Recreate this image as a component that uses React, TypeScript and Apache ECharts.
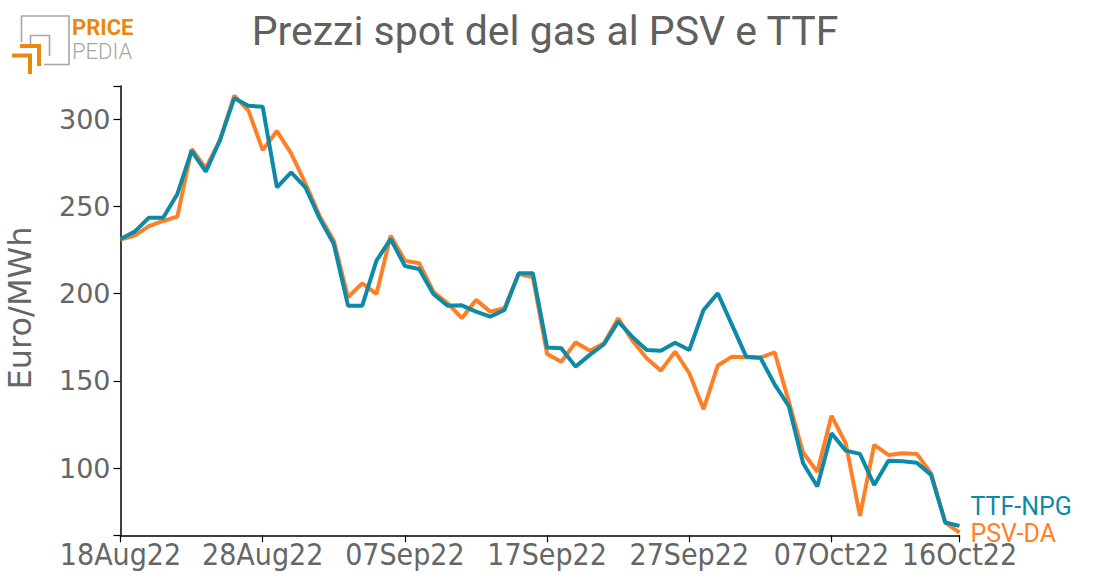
import React, { useEffect, useRef } from "react";
import * as echarts from "echarts";

const dates: string[] = [
  "18Aug22", "19Aug22", "20Aug22", "21Aug22", "22Aug22", "23Aug22", "24Aug22", "25Aug22", "26Aug22", "27Aug22",
  "28Aug22", "29Aug22", "30Aug22", "31Aug22", "01Sep22", "02Sep22", "03Sep22", "04Sep22", "05Sep22", "06Sep22",
  "07Sep22", "08Sep22", "09Sep22", "10Sep22", "11Sep22", "12Sep22", "13Sep22", "14Sep22", "15Sep22", "16Sep22",
  "17Sep22", "18Sep22", "19Sep22", "20Sep22", "21Sep22", "22Sep22", "23Sep22", "24Sep22", "25Sep22", "26Sep22",
  "27Sep22", "28Sep22", "29Sep22", "30Sep22", "01Oct22", "02Oct22", "03Oct22", "04Oct22", "05Oct22", "06Oct22",
  "07Oct22", "08Oct22", "09Oct22", "10Oct22", "11Oct22", "12Oct22", "13Oct22", "14Oct22", "15Oct22", "16Oct22",
];

const labelIndexes: number[] = [0, 10, 20, 30, 40, 50, 59];

const ttfNpg: number[] = [
  231.3, 235.5, 243.5, 243.5, 257.1, 281.7, 269.8, 288.0, 311.9, 307.6,
  307.0, 260.9, 269.5, 260.9, 243.1, 228.4, 193.1, 193.1, 218.9, 231.3,
  215.8, 214.1, 199.8, 193.1, 193.3, 189.7, 186.8, 190.6, 211.6, 211.6,
  169.1, 168.7, 158.2, 164.9, 171.0, 184.0, 175.2, 167.7, 167.3, 171.9,
  167.7, 190.6, 200.2, 182.1, 163.9, 163.3, 148.0, 135.5, 102.9, 89.5,
  120.0, 110.1, 108.2, 90.4, 104.3, 104.0, 103.2, 96.2, 68.9, 67.0,
];

const psvDa: number[] = [
  231.0, 233.2, 238.7, 241.6, 244.1, 282.8, 271.8, 288.0, 313.4, 304.8,
  282.2, 293.1, 280.3, 263.2, 244.5, 230.3, 197.9, 205.9, 199.8, 233.2,
  218.9, 217.4, 201.1, 194.5, 185.9, 196.4, 189.7, 191.6, 211.3, 209.4,
  165.4, 161.0, 172.1, 167.3, 171.6, 185.9, 173.0, 163.0, 155.9, 166.8,
  154.4, 133.8, 158.8, 163.9, 163.6, 163.3, 166.4, 138.0, 109.0, 98.0,
  130.0, 114.3, 72.7, 113.4, 107.6, 108.6, 108.2, 97.1, 68.9, 63.1,
];

const yMin = 61.6;
const yMax = 318.9;
const yLabelValues: number[] = [100, 150, 200, 250, 300];
const yTickValues: number[] = [yMin, 100, 150, 200, 250, 300, yMax];

const TEAL = "#0d8aa7";
const ORANGE = "#ff7f27";
const LOGO_ORANGE = "#e8890c";
const LOGO_GRAY = "#a6a6a6";
const TEXT_GRAY = "#666666";

export default function App() {
  const ref = useRef<HTMLDivElement>(null);

  useEffect(() => {
    if (!ref.current) return;
    const chart = echarts.init(ref.current, undefined, { renderer: "svg" });
    const showIdx = (idx: number) => labelIndexes.indexOf(idx) >= 0;

    chart.setOption({
      animation: false,
      backgroundColor: "#ffffff",
      title: {
        text: "Prezzi spot del gas al PSV e TTF",
        left: 540,
        top: 5,
        textAlign: "center",
        textStyle: {
          fontFamily: "Roboto",
          fontWeight: "normal",
          fontSize: 41,
          color: "#606060",
        },
      },
      grid: { left: 120.5, right: 138.5, top: 86, bottom: 52.7 },
      xAxis: {
        type: "category",
        data: dates,
        boundaryGap: false,
        axisLine: { lineStyle: { color: "#000", width: 1.5 } },
        axisTick: { show: true, length: 7, interval: (idx: number) => showIdx(idx), lineStyle: { color: "#000", width: 1.2 } },
        axisLabel: {
          interval: (idx: number) => showIdx(idx),
          color: TEXT_GRAY,
          fontFamily: "DejaVu Sans Condensed, DejaVu Sans",
          fontSize: 30,
          lineHeight: 26,
          margin: 6,
        },
        splitLine: { show: false },
      },
      yAxis: {
        type: "value",
        min: yMin,
        max: yMax,
        axisLine: { show: true, lineStyle: { color: "#000", width: 1.5 } },
        axisTick: { show: true, length: 7, customValues: yTickValues, lineStyle: { color: "#000", width: 1.2 } },
        axisLabel: {
          customValues: yLabelValues,
          color: TEXT_GRAY,
          fontFamily: "DejaVu Sans",
          fontSize: 27,
          margin: 10,
        },
        splitLine: { show: false },
      },
      series: [
        {
          name: "PSV-DA",
          type: "line",
          data: psvDa,
          showSymbol: false,
          symbol: "none",
          lineStyle: { color: ORANGE, width: 4 },
          itemStyle: { color: ORANGE },
          endLabel: {
            show: true,
            formatter: "{a}",
            color: ORANGE,
            fontFamily: "Roboto",
            fontSize: 25,
            lineHeight: 20,
            distance: 11,
            offset: [0, 1],
          },
          z: 2,
        },
        {
          name: "TTF-NPG",
          type: "line",
          data: ttfNpg,
          showSymbol: false,
          symbol: "none",
          lineStyle: { color: TEAL, width: 4 },
          itemStyle: { color: TEAL },
          endLabel: {
            show: true,
            formatter: "{a}",
            color: TEAL,
            fontFamily: "Roboto",
            fontSize: 25,
            lineHeight: 20,
            distance: 11,
            offset: [0, -19],
          },
          z: 3,
        },
      ],
      graphic: [
        {
          type: "text",
          x: 20,
          y: 308,
          rotation: Math.PI / 2,
          style: {
            text: "Euro/MWh",
            fill: TEXT_GRAY,
            font: "32px 'DejaVu Sans'",
            align: "center",
            verticalAlign: "middle",
          },
        },
        {
          type: "polyline",
          shape: { points: [[21.5, 42], [21.5, 16], [69, 16], [69, 64.5], [44, 64.5]] },
          style: { stroke: LOGO_GRAY, lineWidth: 1.6, fill: null },
        },
        {
          type: "polyline",
          shape: { points: [[30.5, 44], [30.5, 35.5], [49.5, 35.5], [49.5, 56]] },
          style: { stroke: LOGO_GRAY, lineWidth: 1.6, fill: null },
        },
        {
          type: "polyline",
          shape: { points: [[20, 46], [39, 46], [39, 66]] },
          style: { stroke: LOGO_ORANGE, lineWidth: 4, fill: null },
        },
        {
          type: "polyline",
          shape: { points: [[12, 55.5], [30, 55.5], [30, 74]] },
          style: { stroke: LOGO_ORANGE, lineWidth: 4, fill: null },
        },
        {
          type: "text",
          x: 72,
          y: 27.5,
          style: {
            text: "PRICE",
            fill: LOGO_ORANGE,
            font: "bold 22px Roboto",
            lineHeight: 20,
            align: "left",
            verticalAlign: "middle",
          },
        },
        {
          type: "text",
          x: 72,
          y: 51,
          style: {
            text: "PEDIA",
            fill: LOGO_GRAY,
            font: "300 22px Roboto",
            lineHeight: 20,
            align: "left",
            verticalAlign: "middle",
          },
        },
      ],
    });

    return () => chart.dispose();
  }, []);

  return (
    <div
      ref={ref}
      style={{ position: "fixed", left: 0, top: 0, width: 1098, height: 588 }}
    />
  );
}
